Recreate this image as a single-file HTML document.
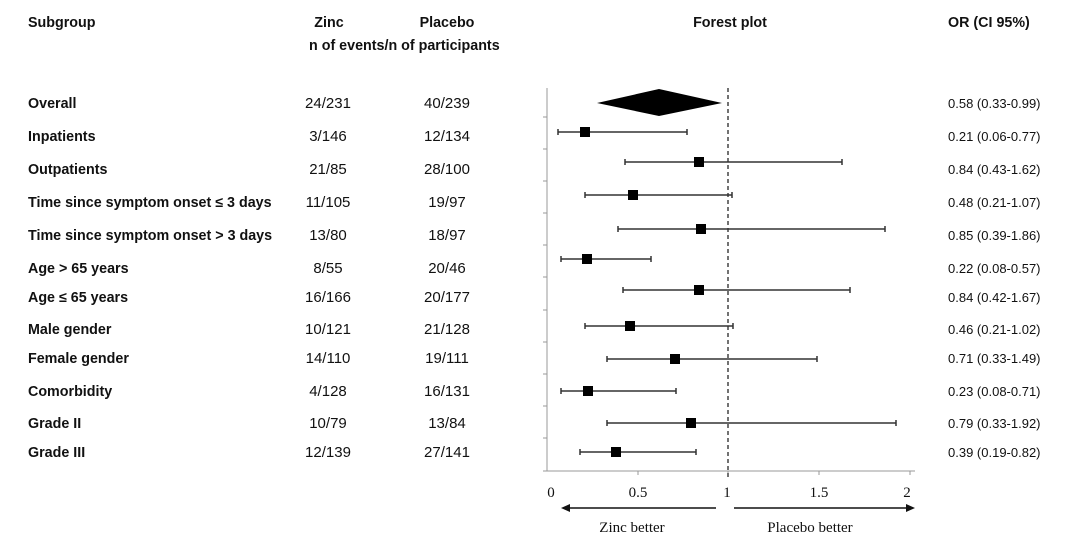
<!DOCTYPE html>
<html><head><meta charset="utf-8"><style>
html,body{margin:0;padding:0;background:#fff;}
svg{display:block;font-family:"Liberation Sans",sans-serif;}
.b{font-weight:bold;font-size:14.3px;fill:#111}
.v{font-size:15px;fill:#111}
.o{font-size:13px;fill:#111}
.s{font-family:"Liberation Serif",serif;font-size:15px;fill:#111}
</style></head><body>
<svg width="1080" height="547" viewBox="0 0 1080 547" xmlns="http://www.w3.org/2000/svg">
<text class="b" x="28" y="27">Subgroup</text>
<text class="b" x="329" y="27" text-anchor="middle">Zinc</text>
<text class="b" x="447" y="27" text-anchor="middle">Placebo</text>
<text class="b" x="309" y="50">n of events/n of participants</text>
<text class="b" x="730" y="27" text-anchor="middle">Forest plot</text>
<text class="b" x="948" y="27">OR (CI 95%)</text>
<line x1="547" y1="88" x2="547" y2="471" stroke="#999" stroke-width="1"/>
<line x1="547" y1="471" x2="915" y2="471" stroke="#999" stroke-width="1"/>
<g stroke="#999" stroke-width="1">
<line x1="543" y1="117" x2="547" y2="117"/><line x1="543" y1="149" x2="547" y2="149"/>
<line x1="543" y1="181" x2="547" y2="181"/><line x1="543" y1="213" x2="547" y2="213"/>
<line x1="543" y1="245" x2="547" y2="245"/><line x1="543" y1="277" x2="547" y2="277"/>
<line x1="543" y1="310" x2="547" y2="310"/><line x1="543" y1="342" x2="547" y2="342"/>
<line x1="543" y1="374" x2="547" y2="374"/><line x1="543" y1="406" x2="547" y2="406"/>
<line x1="543" y1="438" x2="547" y2="438"/><line x1="543" y1="471" x2="547" y2="471"/>
<line x1="638" y1="471" x2="638" y2="475"/><line x1="728" y1="471" x2="728" y2="475"/>
<line x1="819" y1="471" x2="819" y2="475"/><line x1="910" y1="471" x2="910" y2="475"/>
</g>
<line x1="728" y1="88" x2="728" y2="477" stroke="#444" stroke-width="1.5" stroke-dasharray="4,3"/>
<text class="s" x="551" y="497" text-anchor="middle">0</text>
<text class="s" x="638" y="497" text-anchor="middle">0.5</text>
<text class="s" x="727" y="497" text-anchor="middle">1</text>
<text class="s" x="819" y="497" text-anchor="middle">1.5</text>
<text class="s" x="907" y="497" text-anchor="middle">2</text>
<line x1="568" y1="508" x2="716" y2="508" stroke="#111" stroke-width="1.5"/>
<polygon points="561,508 570,504 570,512" fill="#111"/>
<line x1="734" y1="508" x2="908" y2="508" stroke="#111" stroke-width="1.5"/>
<polygon points="915,508 906,504 906,512" fill="#111"/>
<text class="s" x="632" y="532" text-anchor="middle">Zinc better</text>
<text class="s" x="810" y="532" text-anchor="middle">Placebo better</text>
<polygon points="597,103 659,89 722,103 659,116" fill="#000"/>
<g stroke="#333" stroke-width="1.5" fill="#000">
<line x1="558" y1="132" x2="687" y2="132"/><line x1="558" y1="129" x2="558" y2="135"/><line x1="687" y1="129" x2="687" y2="135"/><rect x="580" y="127" width="10" height="10" stroke="none"/>
<line x1="625" y1="162" x2="842" y2="162"/><line x1="625" y1="159" x2="625" y2="165"/><line x1="842" y1="159" x2="842" y2="165"/><rect x="694" y="157" width="10" height="10" stroke="none"/>
<line x1="585" y1="195" x2="732" y2="195"/><line x1="585" y1="192" x2="585" y2="198"/><line x1="732" y1="192" x2="732" y2="198"/><rect x="628" y="190" width="10" height="10" stroke="none"/>
<line x1="618" y1="229" x2="885" y2="229"/><line x1="618" y1="226" x2="618" y2="232"/><line x1="885" y1="226" x2="885" y2="232"/><rect x="696" y="224" width="10" height="10" stroke="none"/>
<line x1="561" y1="259" x2="651" y2="259"/><line x1="561" y1="256" x2="561" y2="262"/><line x1="651" y1="256" x2="651" y2="262"/><rect x="582" y="254" width="10" height="10" stroke="none"/>
<line x1="623" y1="290" x2="850" y2="290"/><line x1="623" y1="287" x2="623" y2="293"/><line x1="850" y1="287" x2="850" y2="293"/><rect x="694" y="285" width="10" height="10" stroke="none"/>
<line x1="585" y1="326" x2="733" y2="326"/><line x1="585" y1="323" x2="585" y2="329"/><line x1="733" y1="323" x2="733" y2="329"/><rect x="625" y="321" width="10" height="10" stroke="none"/>
<line x1="607" y1="359" x2="817" y2="359"/><line x1="607" y1="356" x2="607" y2="362"/><line x1="817" y1="356" x2="817" y2="362"/><rect x="670" y="354" width="10" height="10" stroke="none"/>
<line x1="561" y1="391" x2="676" y2="391"/><line x1="561" y1="388" x2="561" y2="394"/><line x1="676" y1="388" x2="676" y2="394"/><rect x="583" y="386" width="10" height="10" stroke="none"/>
<line x1="607" y1="423" x2="896" y2="423"/><line x1="607" y1="420" x2="607" y2="426"/><line x1="896" y1="420" x2="896" y2="426"/><rect x="686" y="418" width="10" height="10" stroke="none"/>
<line x1="580" y1="452" x2="696" y2="452"/><line x1="580" y1="449" x2="580" y2="455"/><line x1="696" y1="449" x2="696" y2="455"/><rect x="611" y="447" width="10" height="10" stroke="none"/>
</g>
<g>
<text class="b" x="28" y="108">Overall</text><text class="v" x="328" y="108" text-anchor="middle">24/231</text><text class="v" x="447" y="108" text-anchor="middle">40/239</text><text class="o" x="948" y="108">0.58 (0.33-0.99)</text>
<text class="b" x="28" y="141">Inpatients</text><text class="v" x="328" y="141" text-anchor="middle">3/146</text><text class="v" x="447" y="141" text-anchor="middle">12/134</text><text class="o" x="948" y="141">0.21 (0.06-0.77)</text>
<text class="b" x="28" y="174">Outpatients</text><text class="v" x="328" y="174" text-anchor="middle">21/85</text><text class="v" x="447" y="174" text-anchor="middle">28/100</text><text class="o" x="948" y="174">0.84 (0.43-1.62)</text>
<text class="b" x="28" y="207">Time since symptom onset ≤ 3 days</text><text class="v" x="328" y="207" text-anchor="middle">11/105</text><text class="v" x="447" y="207" text-anchor="middle">19/97</text><text class="o" x="948" y="207">0.48 (0.21-1.07)</text>
<text class="b" x="28" y="240">Time since symptom onset &gt; 3 days</text><text class="v" x="328" y="240" text-anchor="middle">13/80</text><text class="v" x="447" y="240" text-anchor="middle">18/97</text><text class="o" x="948" y="240">0.85 (0.39-1.86)</text>
<text class="b" x="28" y="273">Age &gt; 65 years</text><text class="v" x="328" y="273" text-anchor="middle">8/55</text><text class="v" x="447" y="273" text-anchor="middle">20/46</text><text class="o" x="948" y="273">0.22 (0.08-0.57)</text>
<text class="b" x="28" y="302">Age ≤ 65 years</text><text class="v" x="328" y="302" text-anchor="middle">16/166</text><text class="v" x="447" y="302" text-anchor="middle">20/177</text><text class="o" x="948" y="302">0.84 (0.42-1.67)</text>
<text class="b" x="28" y="334">Male gender</text><text class="v" x="328" y="334" text-anchor="middle">10/121</text><text class="v" x="447" y="334" text-anchor="middle">21/128</text><text class="o" x="948" y="334">0.46 (0.21-1.02)</text>
<text class="b" x="28" y="363">Female gender</text><text class="v" x="328" y="363" text-anchor="middle">14/110</text><text class="v" x="447" y="363" text-anchor="middle">19/111</text><text class="o" x="948" y="363">0.71 (0.33-1.49)</text>
<text class="b" x="28" y="396">Comorbidity</text><text class="v" x="328" y="396" text-anchor="middle">4/128</text><text class="v" x="447" y="396" text-anchor="middle">16/131</text><text class="o" x="948" y="396">0.23 (0.08-0.71)</text>
<text class="b" x="28" y="428">Grade II</text><text class="v" x="328" y="428" text-anchor="middle">10/79</text><text class="v" x="447" y="428" text-anchor="middle">13/84</text><text class="o" x="948" y="428">0.79 (0.33-1.92)</text>
<text class="b" x="28" y="457">Grade III</text><text class="v" x="328" y="457" text-anchor="middle">12/139</text><text class="v" x="447" y="457" text-anchor="middle">27/141</text><text class="o" x="948" y="457">0.39 (0.19-0.82)</text>
</g>
</svg>
</body></html>
